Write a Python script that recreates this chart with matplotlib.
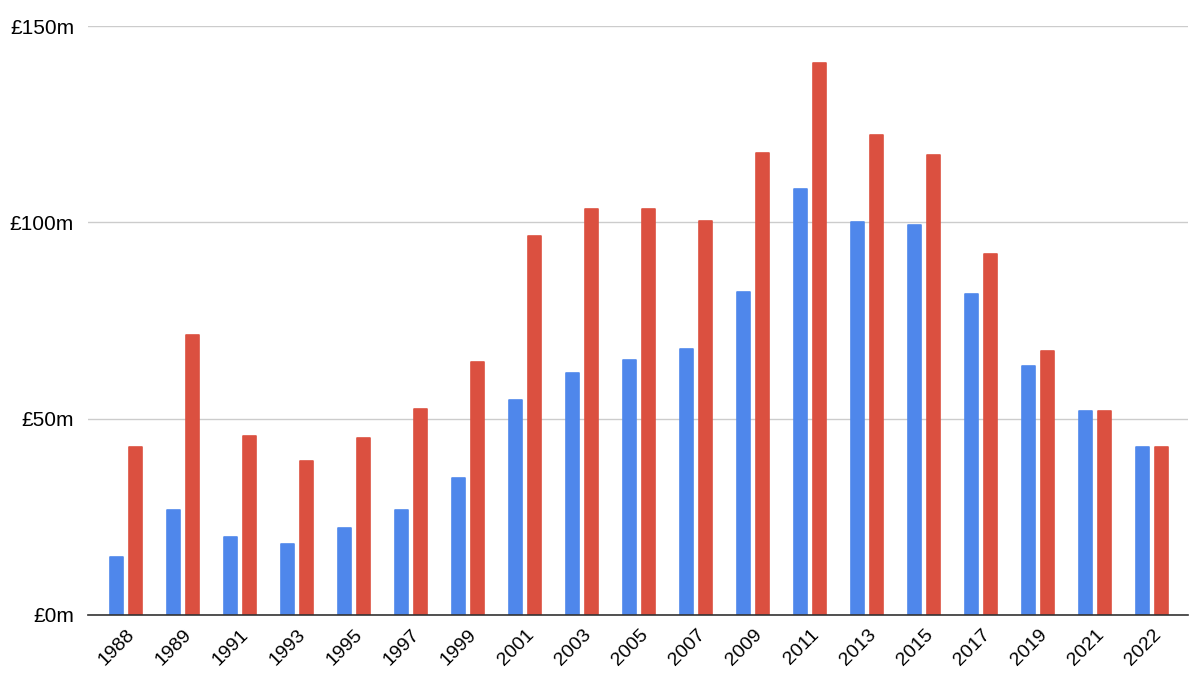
import numpy as np
import matplotlib.pyplot as plt
from matplotlib.ticker import FuncFormatter

years = ["1988", "1989", "1991", "1993", "1995", "1997", "1999", "2001", "2003",
         "2005", "2007", "2009", "2011", "2013", "2015", "2017", "2019", "2021", "2022"]
blue_vals = [14.8, 26.7, 19.9, 18.1, 22.2, 26.7, 34.9, 54.7, 61.6,
             64.9, 67.7, 82.2, 108.5, 100.1, 99.3, 81.7, 63.4, 51.9, 42.8]
red_vals = [42.8, 71.3, 45.6, 39.2, 45.1, 52.5, 64.4, 96.5, 103.4,
            103.4, 100.3, 117.6, 140.6, 122.2, 117.1, 91.9, 67.2, 51.9, 42.8]

BLUE = "#4f87eb"
RED = "#db5040"

plt.rcParams["font.family"] = ["Liberation Sans", "DejaVu Sans"]

fig = plt.figure(figsize=(12, 6.81), dpi=100)
ax = fig.add_axes([0.0733, 0.097, 0.9167, 0.8648])

x = np.arange(len(years))
w = 0.225
gap = 0.1
ax.bar(x - (w + gap) / 2, blue_vals, width=w, color=BLUE, zorder=3,
       edgecolor=BLUE, linewidth=1.2, joinstyle="round")
ax.bar(x + (w + gap) / 2, red_vals, width=w, color=RED, zorder=3,
       edgecolor=RED, linewidth=1.2, joinstyle="round")

ax.set_ylim(0, 150)
ax.set_xlim(-0.67, len(years) - 0.37)
ax.set_yticks([0, 50, 100, 150])
ax.yaxis.set_major_formatter(FuncFormatter(lambda v, p: f"£{int(v)}m"))
ax.grid(axis="y", color="#cccccc", linewidth=1, zorder=0)

ax.set_xticks(x)
ax.set_xticklabels(years, rotation=45, ha="right", rotation_mode="anchor")
ax.tick_params(axis="x", length=0, labelsize=14, pad=8)
ax.tick_params(axis="y", length=0, labelsize=15, pad=10)

for s in ["top", "right", "left"]:
    ax.spines[s].set_visible(False)
ax.spines["bottom"].set_color("#333333")
ax.spines["bottom"].set_linewidth(1.2)
ax.spines["bottom"].set_zorder(4)

fig.savefig("out.png", dpi=100)
